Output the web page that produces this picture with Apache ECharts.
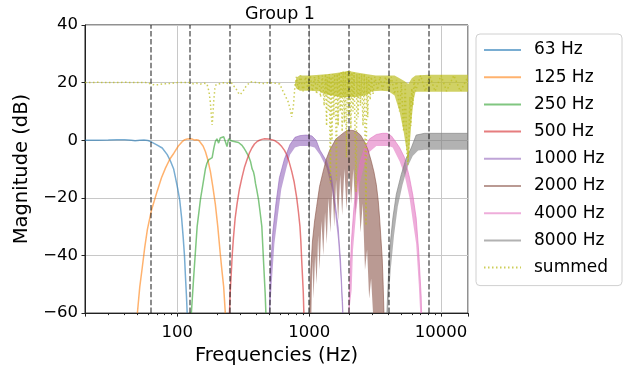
<!DOCTYPE html>
<html>
<head>
<meta charset="utf-8">
<script src="https://cdn.jsdelivr.net/npm/echarts@6/dist/echarts.min.js"></script>
<style>
html,body{margin:0;padding:0;background:#fff;}
#chart{width:629px;height:371px;}
</style>
</head>
<body>
<div id="chart"></div>
<script>
// ---------- data ----------
const title = 'Group 1';
const centers = [63, 125, 250, 500, 1000, 2000, 4000, 8000];
const bandLabels = ['63 Hz', '125 Hz', '250 Hz', '500 Hz', '1000 Hz', '2000 Hz', '4000 Hz', '8000 Hz'];
const xMajorTicks = [100, 1000, 10000];
const xMinorTicks = [20, 30, 40, 50, 60, 70, 80, 90, 200, 300, 400, 500, 600, 700, 800, 900,
                     2000, 3000, 4000, 5000, 6000, 7000, 8000, 9000];
const yTicks = [-60, -40, -20, 0, 20, 40];

const band63 = [[20,0],[25,0],[30,0.1],[35,0.2],[40,0.2],[45,0],[48,-0.2],[52,0],[56,0.1],[60,-0.1],[63,-0.5],
  [70,-1.6],[77,-2.7],[84,-5],[89,-7.3],[94,-10],[97,-13],[101,-17],[104.6,-21],[108,-27],[111,-33.7],
  [113.5,-40],[115.5,-47.4],[117.5,-54],[119,-60]];
const band125 = [[49.9,-60],[52,-51],[54.4,-44],[56.8,-37],[59.4,-31],[63.7,-24.4],[70.7,-17.5],[76,-13],
  [81.6,-9.6],[88,-6.5],[94.3,-4.5],[102,-2],[109,-0.5],[114,0.2],[119,0.4],[125,0.5],[130,0.4],[135,0.1],
  [140,0.2],[145.5,0],[150,-0.5],[157,-2],[163.5,-3.9],[170,-6.5],[178.4,-10.8],[186,-16],[194.5,-22.2],
  [203,-30],[212,-39.4],[218,-45],[225,-50.9],[231.5,-60]];
const band250 = [[128,-60],[133.5,-47],[141.6,-30],[150,-20.5],[157,-15],[163.5,-10],[168,-8],[173,-6.8],
  [178,-6.5],[184,-6],[190,-2.5],[194.5,-0.5],[200,0.5],[206,-1],[212,0.8],[218,0.2],[225,1.2],[232,-0.5],
  [238.5,-2.2],[245,0.5],[252.5,1],[260,-0.3],[267.4,0.3],[275,-0.5],[284,0],[291.6,-0.8],[300,-1],
  [310,-1.8],[318,-2.5],[330,-3.7],[347,-5.5],[360,-7.5],[370,-10],[378.5,-11],[385,-12.5],[392,-15],
  [400,-17],[413,-20.5],[425,-25],[438,-30],[450,-41],[464,-53],[470,-60]];
const band500 = [[249,-60],[252,-53],[256,-47.4],[261,-40],[267,-33.7],[275,-27],[284,-22.2],[296,-17],
  [309.5,-13],[323,-9.5],[338,-6.8],[352,-4.5],[368,-2.7],[385,-1.3],[402,-0.5],[420,0],[438,0.3],
  [460,0.5],[491,0.4],[520,0.2],[552,-0.2],[585,-1],[620,-2.2],[650,-3.5],[676,-5],[705,-7.5],
  [738,-10.8],[770,-14.5],[805,-20],[830,-25],[852,-30],[865,-35],[878,-41.6],[890,-47],[903,-53],[912,-60]];

const band1000Upper = [[500,-60],[508,-46],[530,-32],[560,-22],[595,-13],[650,-6.5],[716,-1.5],[781,1],
  [850,1.6],[950,1.8],[1050,1.5],[1130,0],[1206,-3.4],[1356,-7.3],[1479,-13],[1566,-21],[1658,-30],
  [1729,-41.6],[1790,-56],[1805,-60]];
const band1000Lower = [[505,-60],[520,-50],[545,-36],[580,-26],[615,-17],[670,-10],[716,-5],[781,-2.5],
  [850,-2],[1000,-2],[1100,-2.5],[1206,-5],[1356,-9.6],[1479,-16.5],[1566,-24.5],[1658,-34.7],
  [1729,-47.4],[1780,-60]];

const band2000Upper = [[1010,-60],[1030,-45],[1060,-35],[1100,-28],[1140,-23],[1200,-16],[1275,-11],
  [1350,-6.5],[1430,-3.5],[1510,-1.5],[1600,0.5],[1705,1.5],[1850,2.8],[1980,3.5],[2150,3.4],[2280,3],
  [2450,1.8],[2630,-0.5],[2800,-3.5],[2960,-7.3],[3100,-11],[3230,-15.4],[3340,-21],[3420,-27],
  [3500,-34],[3580,-41],[3640,-50],[3690,-60]];
const band2000Lower = [[1010,-60],[1040,-60],[1060,-42],[1080,-55],[1110,-40],[1140,-50],[1170,-33],
  [1200,-45],[1240,-28],[1280,-40],[1320,-25],[1360,-36],[1400,-20],[1450,-32],[1500,-16],[1550,-30],
  [1600,-14],[1660,-28],[1720,-12],[1780,-26],[1850,-10],[1920,-24],[2000,-9],[2080,-22],[2160,-10],
  [2250,-26],[2350,-14],[2450,-32],[2550,-22],[2650,-45],[2750,-38],[2850,-55],[2950,-48],[3050,-60],
  [3690,-60]];

const band4000Upper = [[2000,-60],[2040,-46],[2100,-34],[2180,-24],[2283,-15],[2417,-8],[2637,-2.5],
  [2876,0.5],[3232,2],[3600,2.4],[3900,2.4],[4200,1.5],[4441,0],[4845,-2.5],[5284,-6],[5766,-13],
  [6106,-19],[6477,-27],[6776,-39],[7063,-54],[7120,-60]];
const band4000Lower = [[2007,-60],[2100,-52],[2151,-38],[2283,-24],[2417,-15],[2637,-8],[2876,-4],
  [3232,-2],[3600,-2],[4000,-2],[4300,-2.5],[4441,-3.8],[4845,-7.3],[5284,-12],[5766,-20],[6106,-28],
  [6477,-36],[6776,-50],[6950,-60]];

const band8000Upper = [[3883,-60],[4074,-38],[4315,-26.8],[4575,-18.8],[4990,-11.9],[5443,-6.2],
  [5937,-2.7],[6477,1.8],[7500,2.4],[16000,2.4]];
const band8000Lower = [[3950,-60],[4150,-45],[4400,-33],[4700,-23],[5100,-15.5],[5600,-9],[6100,-5.5],
  [6700,-3.6],[7500,-3.3],[16000,-3.3]];

const summed = [[20,20],[25,20.1],[30,20],[40,20.1],[50,20],[58,20],[63,19.6],[67,19.2],[72,19.3],
  [80,19.6],[90,19.7],[100,20],[110,20],[120,20.1],[126,20],[132,19.6],[140,19.8],[150,19.5],[160,19.8],
  [168,19.6],[174,17],[178,13.4],[182,8],[184,5.3],[186,8],[189,13.4],[193,18],[197,19.3],[205,19.5],
  [215,19.8],[230,20],[245,19.6],[252,20.7],[265,19],[275,18.4],[290,16.5],[300,15.8],[318,17.3],
  [335,19],[347,19.6],[360,20.3],[400,20],[450,19.7],[500,20],[550,19.8],[600,19.5],[620,17.9],
  [657,15.6],[694,13.3],[716,11],[737,8.1],[760,12],[781,19],
  [800,22],[830,17.5],[860,22.5],[900,17],[940,22],[980,17.5],[1020,22.5],[1060,17],[1100,22],
  [1140,16],[1180,22.5],[1220,15],[1260,22.5],[1300,12],[1330,23],[1356,5],[1370,22],[1400,10],
  [1420,23],[1450,-14.8],[1465,22],[1490,0],[1510,23],[1540,8],[1560,23],[1590,12],[1610,-13.6],
  [1630,23],[1660,5],[1690,23.5],[1720,10],[1750,24],[1780,3],[1810,24],[1850,6],[1880,24],[1920,-6],
  [1950,24],[1990,8],[2030,24],[2070,4],[2110,23.5],[2150,10],[2190,23.5],[2230,2],[2270,-18],
  [2300,23],[2350,8],[2400,23],[2450,12],[2500,23],[2560,5],[2620,23],[2660,-3],[2700,-29.6],
  [2730,22],[2780,8],[2830,22],[2900,14],[2960,22],[3050,16],[3150,22],[3300,17.5],[3450,22],
  [3600,17.5],[3800,22],[4000,17.5],[4200,22],[4440,16],[4600,21],[4845,10],[5000,20],[5200,3],
  [5350,19],[5500,-4],[5600,-8.5],[5700,-2],[5800,15],[5900,5],[6000,18],[6100,12],[6250,21],
  [6400,17],[7000,22.5],[7600,17],[8200,22.5],[9000,17],[10000,22.5],[11000,17],[12500,22.5],
  [14000,17],[16000,22]];
const summedUpper = [[781,19.5],[800,21.8],[850,22.5],[1000,22.5],[1200,22.7],[1400,23],[1700,23.5],
  [2000,24],[2300,23.5],[2700,23],[3200,22.5],[4000,22.5],[4440,22.5],[4845,21.5],[5300,20.5],
  [5650,19.5],[6000,21.5],[6400,22.5],[8000,22.7],[16000,22.7]];
const summedLower = [[781,19],[800,18],[850,17.2],[1000,17.2],[1200,17],[1300,16],[1500,15.5],
  [1700,15],[2000,15],[2300,15],[2600,15.5],[2800,16],[3000,17],[3500,17.2],[4000,17],[4440,15.5],
  [4845,10],[5200,3],[5500,-4],[5650,-8],[5800,-1],[6000,8],[6200,14],[6400,16.8],[8000,16.8],
  [16000,16.8]];

// ---------- styling ----------
const FONT = 'DejaVu Sans';
const colors = ['rgba(31,119,180,0.6)','rgba(255,127,14,0.6)','rgba(44,160,44,0.6)','rgba(214,39,40,0.6)',
  'rgba(148,103,189,0.6)','rgba(140,86,75,0.6)','rgba(227,119,194,0.6)','rgba(127,127,127,0.6)'];
const summedColor = 'rgba(188,189,34,0.75)';

function lineSeries(name, data, color, extra) {
  return Object.assign({
    type: 'line', name: name, data: data, symbol: 'none', showSymbol: false,
    lineStyle: { color: color, width: 1.5 }, itemStyle: { color: color },
    silent: true, animation: false, z: 3
  }, extra || {});
}
function bandSeries(key, upper, lower, color, z) {
  return {
    type: 'custom', name: key, coordinateSystem: 'cartesian2d', data: upper,
    encode: { x: 0, y: 1 }, clip: true, silent: true, animation: false, z: z || 2,
    renderItem: function (params, api) {
      if (params.dataIndex !== 0) return null;
      const pts = upper.map(p => api.coord(p)).concat(lower.slice().reverse().map(p => api.coord(p)));
      return { type: 'polygon', shape: { points: pts }, style: { fill: color, stroke: null } };
    }
  };
}

const bandLines = [band63, band125, band250, band500, band1000Upper, band2000Upper, band4000Upper, band8000Upper];
const series = [];
bandLines.forEach((d, i) => series.push(lineSeries(bandLabels[i], d, colors[i], i >= 4 ? { lineStyle: { color: colors[i], width: 1 } } : {})));
series.push(bandSeries('_b1000', band1000Upper, band1000Lower, colors[4]));
series.push(bandSeries('_b2000', band2000Upper, band2000Lower, colors[5]));
series.push(bandSeries('_b4000', band4000Upper, band4000Lower, colors[6]));
series.push(bandSeries('_b8000', band8000Upper, band8000Lower, colors[7]));
series.push(bandSeries('_bsum', summedUpper, summedLower, 'rgba(188,189,34,0.7)', 4));
series.push(lineSeries('summed', summed, summedColor, { lineStyle: { color: summedColor, width: 1.5, type: [1.5, 2.5] }, z: 5 }));
series.push({
  type: 'line', name: '_vlines', data: [], silent: true, animation: false, z: 6,
  markLine: {
    silent: true, symbol: ['none', 'none'], animation: false,
    label: { show: false },
    lineStyle: { color: 'rgba(0,0,0,0.6)', width: 1.5, type: [5.5, 2.4] },
    emphasis: { disabled: true },
    data: centers.map(c => ({ xAxis: c }))
  }
});

const chart = echarts.init(document.getElementById('chart'), null, { renderer: 'canvas' });
chart.setOption({
  animation: false,
  backgroundColor: '#fff',
  textStyle: { fontFamily: FONT, color: '#000' },
  title: {
    text: title, left: 240, top: 0,
    textStyle: { fontFamily: FONT, fontSize: 17.5, fontWeight: 'normal', color: '#000' }
  },
  grid: { left: 85, right: 161, top: 25, bottom: 55, show: true, borderColor: '#222', borderWidth: 1, backgroundColor: 'transparent' },
  legend: {
    orient: 'vertical', left: 476, top: 34,
    padding: [6, 14, 8, 7],
    backgroundColor: '#fff', borderColor: '#d0d0d0', borderWidth: 1, borderRadius: 4,
    itemWidth: 37, itemHeight: 14, itemGap: 7.2,
    itemStyle: { opacity: 0 },
    textStyle: { fontFamily: FONT, fontSize: 17, color: '#000', lineHeight: 20, padding: [0, 0, 0, 8] },
    data: bandLabels.concat(['summed']),
    selectedMode: false
  },
  xAxis: [{
    type: 'log', logBase: 10, min: 20, max: 16000, position: 'bottom',
    name: 'Frequencies (Hz)', nameLocation: 'middle', nameGap: 30,
    nameTextStyle: { fontFamily: FONT, fontSize: 19.5, color: '#000' },
    axisLine: { show: true, onZero: false, lineStyle: { color: '#222', width: 1 } },
    axisTick: { show: true, length: 3.5, lineStyle: { color: '#222' } },
    axisLabel: {
      fontFamily: FONT, fontSize: 16.5, color: '#000', margin: 11,
      formatter: function (v) { const r = Math.round(v); return xMajorTicks.indexOf(r) >= 0 ? String(r) : ''; }
    },
    splitLine: { show: true, lineStyle: { color: '#c8c8c8', width: 1 } }
  }, {
    type: 'log', logBase: 10, min: 20, max: 16000, position: 'bottom', gridIndex: 0, offset: 0,
    axisLine: { show: false, onZero: false },
    axisTick: { show: true, length: 2, customValues: xMinorTicks, lineStyle: { color: '#222' } },
    axisLabel: { show: false },
    splitLine: { show: false }
  }],
  yAxis: {
    type: 'value', min: -60, max: 40, interval: 20,
    name: 'Magnitude (dB)', nameLocation: 'middle', nameGap: 40, nameRotate: 90,
    nameTextStyle: { fontFamily: FONT, fontSize: 19.5, color: '#000' },
    axisLine: { show: true, onZero: false, lineStyle: { color: '#222', width: 1 } },
    axisTick: { show: true, length: 3.5, lineStyle: { color: '#222' } },
    axisLabel: {
      fontFamily: FONT, fontSize: 16.5, color: '#000', margin: 7,
      formatter: function (v) { return v < 0 ? '\u2212' + Math.abs(v) : String(v); }
    },
    splitLine: { show: true, lineStyle: { color: '#c8c8c8', width: 1 } }
  },
  series: series
});
</script>
</body>
</html>
